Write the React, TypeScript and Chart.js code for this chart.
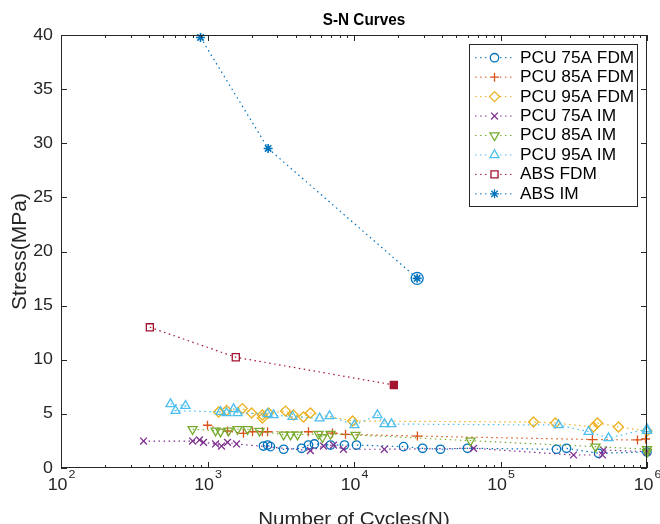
import React, { useEffect, useRef } from 'react';
import { Chart, registerables } from 'chart.js';

Chart.register(...registerables);

// ---------- data ----------
const xTickExponents = [2, 3, 4, 5, 6];
const yTicks = [0, 5, 10, 15, 20, 25, 30, 35, 40];

const pcu75FdmN = [2410, 2570, 2690, 3310, 4390, 4890, 5370, 6910, 8610, 10400, 21800, 29400, 38900, 59500, 241000, 282000, 467000, 1000000];
const pcu75FdmS = [2.03, 2.12, 1.97, 1.73, 1.82, 2.12, 2.22, 2.12, 2.12, 2.12, 1.97, 1.82, 1.73, 1.82, 1.73, 1.82, 1.36, 1.48];

const pcu85FdmN = [1000, 1370, 1760, 2030, 2370, 2570, 4890, 7130, 8750, 27100, 424000, 861000, 977000];
const pcu85FdmS = [3.95, 3.42, 3.2, 3.35, 3.35, 3.35, 3.35, 3.23, 3.11, 2.95, 2.63, 2.59, 2.68];

const pcu95FdmN = [1190, 1350, 1730, 2000, 2370, 2370, 2610, 3410, 3860, 4520, 5040, 9780, 168000, 237000, 431000, 459000, 639000, 1000000];
const pcu95FdmS = [5.17, 5.31, 5.49, 5.08, 4.9, 4.62, 5.08, 5.26, 4.9, 4.71, 5.08, 4.34, 4.25, 4.16, 3.79, 4.16, 3.79, 3.42];

const pcu75ImN = [366, 791, 882, 939, 1135, 1247, 1370, 1578, 5040, 6190, 7250, 8470, 16100, 65500, 315000, 497000, 505000, 1000000];
const pcu75ImS = [2.49, 2.49, 2.59, 2.37, 2.22, 2.03, 2.37, 2.22, 1.6, 2.03, 2.12, 1.73, 1.73, 1.82, 1.2, 1.2, 1.66, 1.51];

const pcu85ImN = [791, 1135, 1227, 1391, 1604, 1876, 2265, 3306, 3689, 4115, 5726, 6095, 6914, 10240, 62400, 445000, 1000000, 1000000];
const pcu85ImS = [3.58, 3.45, 3.35, 3.45, 3.58, 3.58, 3.42, 3.08, 3.08, 3.08, 3.14, 2.83, 3.14, 3.05, 2.52, 1.97, 1.73, 1.48];

const pcu95ImN = [559, 708, 605, 1227, 1349, 1506, 1604, 2570, 2825, 3805, 5821, 6808, 10080, 14450, 16140, 18020, 249000, 399000, 546000, 1000000, 1000000];
const pcu95ImS = [5.91, 5.75, 5.29, 5.19, 5.08, 5.45, 5.08, 4.99, 4.89, 4.74, 4.59, 4.8, 3.97, 4.89, 4.06, 4.06, 3.97, 3.35, 2.77, 3.6, 3.44];

const absFdmN = [404, 1560, 18700];
const absFdmS = [13.0, 10.23, 7.67];

const absImN = [896, 2594, 26980];
const absImS = [39.77, 29.52, 17.52];

// ---------- styles ----------
const FONT = '"Liberation Sans", Arial, Helvetica, sans-serif';
const SX = 1.08;
const AXIS_COLOR = '#262626';

type Series = { label: string; n: number[]; s: number[]; color: string; style: string; r: number; rot: number; filledLast?: boolean };

const series: Series[] = [
  { label: 'PCU 75A FDM', n: pcu75FdmN, s: pcu75FdmS, color: '#0072BD', style: 'circle', r: 4.2, rot: 0 },
  { label: 'PCU 85A FDM', n: pcu85FdmN, s: pcu85FdmS, color: '#D95319', style: 'cross', r: 4.5, rot: 0 },
  { label: 'PCU 95A FDM', n: pcu95FdmN, s: pcu95FdmS, color: '#EDB120', style: 'rectRot', r: 5, rot: 0 },
  { label: 'PCU 75A IM', n: pcu75ImN, s: pcu75ImS, color: '#7E2F8E', style: 'crossRot', r: 4.8, rot: 0 },
  { label: 'PCU 85A IM', n: pcu85ImN, s: pcu85ImS, color: '#77AC30', style: 'triangle', r: 5.2, rot: 180 },
  { label: 'PCU 95A IM', n: pcu95ImN, s: pcu95ImS, color: '#4DBEEE', style: 'triangle', r: 5.2, rot: 0 },
  { label: 'ABS FDM', n: absFdmN, s: absFdmS, color: '#A2142F', style: 'rect', r: 5, rot: 0, filledLast: true },
  { label: 'ABS IM', n: absImN, s: absImS, color: '#0072BD', style: 'star', r: 4.5, rot: 0 },
];

function drawMarker(ctx: CanvasRenderingContext2D, style: string, x: number, y: number, r: number, color: string, rot: number) {
  ctx.save();
  ctx.strokeStyle = color;
  ctx.lineWidth = 1.3;
  ctx.setLineDash([]);
  ctx.beginPath();
  const d = r * Math.SQRT1_2;
  if (style === 'circle') {
    ctx.arc(x, y, r, 0, Math.PI * 2);
  } else if (style === 'cross') {
    ctx.moveTo(x - r, y); ctx.lineTo(x + r, y);
    ctx.moveTo(x, y - r); ctx.lineTo(x, y + r);
  } else if (style === 'crossRot') {
    ctx.moveTo(x - d, y - d); ctx.lineTo(x + d, y + d);
    ctx.moveTo(x - d, y + d); ctx.lineTo(x + d, y - d);
  } else if (style === 'star') {
    ctx.moveTo(x - r, y); ctx.lineTo(x + r, y);
    ctx.moveTo(x, y - r); ctx.lineTo(x, y + r);
    ctx.moveTo(x - d, y - d); ctx.lineTo(x + d, y + d);
    ctx.moveTo(x - d, y + d); ctx.lineTo(x + d, y - d);
  } else if (style === 'rectRot') {
    ctx.moveTo(x - r, y); ctx.lineTo(x, y - r); ctx.lineTo(x + r, y); ctx.lineTo(x, y + r); ctx.closePath();
  } else if (style === 'rect') {
    ctx.rect(x - d, y - d, 2 * d, 2 * d);
  } else if (style === 'triangle') {
    let a = (rot * Math.PI) / 180;
    ctx.moveTo(x + Math.sin(a) * r, y - Math.cos(a) * r);
    a += (2 * Math.PI) / 3;
    ctx.lineTo(x + Math.sin(a) * r, y - Math.cos(a) * r);
    a += (2 * Math.PI) / 3;
    ctx.lineTo(x + Math.sin(a) * r, y - Math.cos(a) * r);
    ctx.closePath();
  }
  ctx.stroke();
  ctx.restore();
}

function text(ctx: CanvasRenderingContext2D, str: string, x: number, y: number, size: number, align: CanvasTextAlign, baseline: CanvasTextBaseline, opts: { weight?: string; color?: string; rotate?: number; sx?: number } = {}) {
  ctx.save();
  ctx.font = `${opts.weight || 'normal'} ${size}px ${FONT}`;
  ctx.fillStyle = opts.color || AXIS_COLOR;
  ctx.textAlign = align;
  ctx.textBaseline = baseline;
  ctx.translate(x, y);
  if (opts.rotate) ctx.rotate(opts.rotate);
  ctx.scale(opts.sx || SX, 1);
  ctx.fillText(str, 0, 0);
  ctx.restore();
}

const axesPlugin = {
  id: 'matlabAxes',
  afterDraw(chart: any) {
    const ctx: CanvasRenderingContext2D = chart.ctx;
    const { left, right, top, bottom } = chart.chartArea;
    const xs = chart.scales.x;
    const ys = chart.scales.y;
    ctx.save();
    ctx.strokeStyle = AXIS_COLOR;
    ctx.lineWidth = 1;
    ctx.setLineDash([]);
    // box
    ctx.strokeRect(left + 0.5, top + 0.5, right - left - 1, bottom - top - 1);
    // x ticks
    ctx.beginPath();
    xTickExponents.forEach((e, i) => {
      const px = Math.round(xs.getPixelForValue(Math.pow(10, e))) + 0.5;
      ctx.moveTo(px, bottom); ctx.lineTo(px, bottom - 6);
      ctx.moveTo(px, top); ctx.lineTo(px, top + 6);
      if (i < xTickExponents.length - 1) {
        for (let m = 2; m <= 9; m++) {
          const mx = Math.round(xs.getPixelForValue(m * Math.pow(10, e))) + 0.5;
          ctx.moveTo(mx, bottom); ctx.lineTo(mx, bottom - 3);
          ctx.moveTo(mx, top); ctx.lineTo(mx, top + 3);
        }
      }
    });
    // y ticks
    yTicks.forEach((v) => {
      const py = Math.round(ys.getPixelForValue(v)) + 0.5;
      ctx.moveTo(left, py); ctx.lineTo(left + 6, py);
      ctx.moveTo(right, py); ctx.lineTo(right - 6, py);
    });
    ctx.stroke();
    ctx.restore();

    // y tick labels
    yTicks.forEach((v) => {
      text(ctx, String(v), left - 8, ys.getPixelForValue(v), 16.5, 'right', 'middle');
    });
    // x tick labels: 10^e
    xTickExponents.forEach((e) => {
      const px = xs.getPixelForValue(Math.pow(10, e));
      ctx.save();
      ctx.font = `normal 16.5px ${FONT}`;
      const wBase = ctx.measureText('10').width * SX;
      ctx.font = `normal 11.5px ${FONT}`;
      const wExp = ctx.measureText(String(e)).width * SX;
      ctx.restore();
      const start = px - (wBase + wExp) / 2;
      text(ctx, '10', start, 490, 16.5, 'left', 'alphabetic');
      text(ctx, String(e), start + wBase + 1, 478, 11.5, 'left', 'alphabetic');
    });
    // axis titles
    text(ctx, 'Number of Cycles(N)', (left + right) / 2, 525, 19, 'center', 'alphabetic');
    text(ctx, 'Stress(MPa)', 26, (top + bottom) / 2, 19.5, 'center', 'alphabetic', { rotate: -Math.PI / 2 });
    // title
    text(ctx, 'S-N Curves', (left + right) / 2 + 10, 25, 17, 'center', 'alphabetic', { weight: 'bold', color: '#000000', sx: 0.9 });

    // legend
    const lx = 469, ly = 44, lw = 168, lh = 162;
    ctx.save();
    ctx.fillStyle = '#ffffff';
    ctx.fillRect(lx, ly, lw, lh);
    ctx.strokeStyle = AXIS_COLOR;
    ctx.lineWidth = 1;
    ctx.strokeRect(lx + 0.5, ly + 0.5, lw, lh);
    ctx.restore();
    series.forEach((s, i) => {
      const y = 57.7 + i * 19.45;
      ctx.save();
      ctx.strokeStyle = s.color;
      ctx.lineWidth = 1;
      ctx.setLineDash([1.5, 3.5]);
      ctx.beginPath();
      ctx.moveTo(475, y); ctx.lineTo(514, y);
      ctx.stroke();
      ctx.restore();
      ctx.save();
      ctx.fillStyle = '#ffffff';
      ctx.fillRect(494.5 - s.r, y - s.r, 2 * s.r, 2 * s.r);
      ctx.restore();
      drawMarker(ctx, s.style, 494.5, y, s.r, s.color, s.rot);
      text(ctx, s.label, 520, y + 0.5, 16, 'left', 'middle', { color: '#000000' });
    });
  },
};

export default function App() {
  const ref = useRef<HTMLCanvasElement | null>(null);
  useEffect(() => {
    document.body.style.margin = '0';
    const canvas = ref.current;
    if (!canvas) return;
    const datasets: any[] = series.map((s, i) => ({
      label: s.label,
      data: s.n.map((x, k) => ({ x, y: s.s[k] })),
      showLine: true,
      borderColor: s.color,
      borderWidth: 1.2,
      borderDash: [1.5, 3.5],
      tension: 0,
      pointStyle: s.style,
      pointRadius: s.r,
      pointRotation: s.rot,
      pointBorderColor: s.color,
      pointBorderWidth: s.style === 'star' ? 1.6 : 1.3,
      pointBackgroundColor: s.n.map((_, k) => (s.filledLast && k === s.n.length - 1 ? s.color : 'rgba(0,0,0,0)')),
      clip: false,
      order: 20 - i,
    }));
    // extra circle marker around the last ABS IM point
    datasets.push({
      label: 'ABS IM ring',
      data: [{ x: absImN[absImN.length - 1], y: absImS[absImS.length - 1] }],
      showLine: false,
      pointStyle: 'circle',
      pointRadius: 6,
      pointBorderColor: '#0072BD',
      pointBorderWidth: 1.3,
      pointBackgroundColor: 'rgba(0,0,0,0)',
      clip: false,
      order: 0,
    });
    const chart = new Chart(canvas, {
      type: 'scatter',
      data: { datasets },
      options: {
        animation: false,
        responsive: false,
        maintainAspectRatio: false,
        events: [],
        layout: { padding: { left: 61, right: 13, top: 35, bottom: 56 } },
        scales: {
          x: { type: 'logarithmic', min: 100, max: 1000000, display: false },
          y: { type: 'linear', min: 0, max: 40, display: false },
        },
        plugins: {
          legend: { display: false },
          tooltip: { enabled: false },
          title: { display: false },
        },
      },
      plugins: [axesPlugin],
    });
    return () => chart.destroy();
  }, []);
  return (
    <div style={{ width: 660, height: 524, background: '#ffffff' }}>
      <canvas ref={ref} width={660} height={524} style={{ display: 'block' }} />
    </div>
  );
}
